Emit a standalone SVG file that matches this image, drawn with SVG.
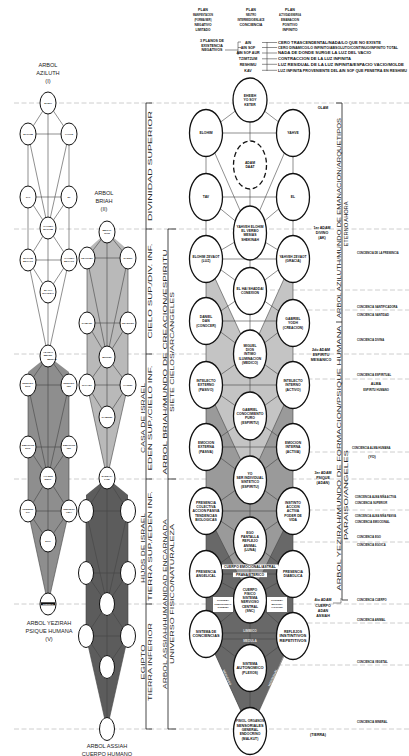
<svg xmlns="http://www.w3.org/2000/svg" width="409" height="756" viewBox="0 0 409 756">
<style>
.dl{stroke:#c2c2c2;stroke-width:.8;stroke-dasharray:5 2.5;fill:none}
.cl{stroke:#444;stroke-width:.6;fill:none}
.br{stroke:#333;stroke-width:.9;fill:none}
.n{fill:#fff;stroke:#111;stroke-width:1.3}
.nd{fill:#fff;stroke:#111;stroke-width:1.3;stroke-dasharray:5 3}
.ns{fill:#fff;stroke:#111;stroke-width:1}
.t{font-family:"Liberation Sans",Arial,sans-serif;font-weight:bold;font-size:3.4px;text-anchor:middle;fill:#111}
.ts{font-family:"Liberation Sans",Arial,sans-serif;font-weight:bold;font-size:2.5px;text-anchor:middle;fill:#111}
.tt{font-family:"Liberation Sans",Arial,sans-serif;font-size:5.6px;text-anchor:middle;fill:#222}
.vt{font-family:"Liberation Sans",Arial,sans-serif;font-size:5.4px;text-anchor:middle;fill:#222}
.lg{font-family:"Liberation Sans",Arial,sans-serif;font-weight:bold;font-size:3.6px;fill:#111}
.lc{font-family:"Liberation Sans",Arial,sans-serif;font-weight:bold;font-size:3.6px;fill:#111;text-anchor:middle}
.wt{font-family:"Liberation Sans",Arial,sans-serif;font-weight:bold;font-size:3.2px;fill:#e0e0e0;text-anchor:middle}
</style>

<!-- dashed level lines -->
<g id="levels">
<line class="dl" x1="14" y1="103" x2="409" y2="103"/>
<line class="dl" x1="14" y1="229" x2="409" y2="229"/>
<line class="dl" x1="14" y1="354" x2="409" y2="354"/>
<line class="dl" x1="14" y1="479" x2="409" y2="479"/>
<line class="dl" x1="14" y1="604" x2="409" y2="604"/>
<line class="dl" x1="14" y1="729" x2="409" y2="729"/>
<line class="dl" x1="270" y1="290" x2="409" y2="290"/>
<line class="dl" x1="270" y1="310" x2="409" y2="310"/>
<line class="dl" x1="270" y1="379" x2="409" y2="379"/>
<line class="dl" x1="270" y1="452" x2="409" y2="452"/>
<line class="dl" x1="270" y1="510" x2="409" y2="510"/>
<line class="dl" x1="270" y1="542" x2="409" y2="542"/>
<line class="dl" x1="270" y1="623" x2="409" y2="623"/>
<line class="dl" x1="270" y1="665" x2="409" y2="665"/>
</g>

<!-- tree fills -->
<g id="fills">
<polygon points="107,232 87,250 87,385 107,478 128,385 128,250" fill="#b9b9b9"/>
<polygon points="48,356 28,372 28,511 48,604 69,511 69,372" fill="#8e8e8e"/>
<polygon points="107,478 86,495 86,636 107,729 128,636 128,495" fill="#5c5c5c"/>
<polygon points="206,259 250,354 293,259 293,634 250,731 206,634" fill="#c4c4c4"/>
<polygon points="206,385 250,480 293,385 293,634 250,731 206,634" fill="#9a9a9a"/>
<polygon points="206,511 250,598 293,511 293,634 250,731 206,634" fill="#686868"/>
</g>

<!-- header -->
<g id="header">
<text class="lc" x="203" y="11"><tspan x="203">PLAN</tspan><tspan x="203" dy="5" textLength="20" lengthAdjust="spacingAndGlyphs">MANIFESTACION</tspan><tspan x="203" dy="5" textLength="17" lengthAdjust="spacingAndGlyphs">(FORMA/SER)</tspan><tspan x="203" dy="5" textLength="17" lengthAdjust="spacingAndGlyphs">NEGATIVO</tspan><tspan x="203" dy="5" textLength="15" lengthAdjust="spacingAndGlyphs">LIMITADO</tspan></text>
<text class="lc" x="251" y="11"><tspan x="251">PLAN</tspan><tspan x="251" dy="5" textLength="10" lengthAdjust="spacingAndGlyphs">NEUTRO</tspan><tspan x="251" dy="5" textLength="27" lengthAdjust="spacingAndGlyphs">INTERMEDIO/ENLACE</tspan><tspan x="251" dy="5" textLength="23" lengthAdjust="spacingAndGlyphs">CONCIENCIA</tspan></text>
<text class="lc" x="290" y="11"><tspan x="290">PLAN</tspan><tspan x="290" dy="5" textLength="22" lengthAdjust="spacingAndGlyphs">ACTIVIDAD/ENERGIA</tspan><tspan x="290" dy="5" textLength="18" lengthAdjust="spacingAndGlyphs">EMANACION</tspan><tspan x="290" dy="5" textLength="15" lengthAdjust="spacingAndGlyphs">POSITIVO</tspan><tspan x="290" dy="5" textLength="15" lengthAdjust="spacingAndGlyphs">INFINITO</tspan></text>
<text class="lc" x="212" y="42"><tspan x="212">3 PLANOS DE</tspan><tspan x="212" dy="4.6">EXISTENCIA</tspan><tspan x="212" dy="4.6">NEGATIVOS</tspan></text>
<path class="cl" d="M225,50 H238 M238,42 V55 M238,42 H241 M238,47.5 H241 M238,53 H241"/>
<text class="lc" x="248" y="43.5">AIN</text>
<text class="lc" x="248" y="48.8">AIN SOF</text>
<text class="lc" x="248" y="54.3">AIN SOF AUR</text>
<text class="lc" x="248" y="60">TZIMTZUM</text>
<text class="lc" x="248" y="65.5">RESHIMU</text>
<text class="lc" x="248" y="71.5">KAV</text>
<path class="cl" d="M267,42 V71 M262,42.5 H277 M262,47.5 H277 M262,53 H277 M262,58.8 H277 M262,64.3 H277 M262,70.3 H277"/>
<text class="lg" x="278" y="43.8" textLength="103" lengthAdjust="spacingAndGlyphs">CERO TRASCENDENTAL/NADA/LO QUE NO EXISTE</text>
<text class="lg" x="278" y="48.8" textLength="120" lengthAdjust="spacingAndGlyphs">CERO DINAMICO/LO INFINITO/ABSOLUTO/CONTINUO/INFINITO TOTAL</text>
<text class="lg" x="278" y="54.3" textLength="93" lengthAdjust="spacingAndGlyphs">NADA DE DONDE SURGE LA LUZ DEL VACIO</text>
<text class="lg" x="278" y="60.1" textLength="73" lengthAdjust="spacingAndGlyphs">CONTRACCION DE LA LUZ INFINITA</text>
<text class="lg" x="278" y="65.6" textLength="126" lengthAdjust="spacingAndGlyphs">LUZ RESIDUAL DE LA LUZ INFINITA/ESPACIO VACIO/MOLDE</text>
<text class="lg" x="278" y="71.6" textLength="129" lengthAdjust="spacingAndGlyphs">LUZ INFINITA PROVENIENTE DEL AIN SOF QUE PENETRA EN RESHIMU</text>
</g>

<!-- connectors -->
<g id="connectors">
<path class="cl" d="M48,103 V356 M48,103 L28,134 M48,103 L69,134 M28,134 H69 M28,197 H69 M28,260 H69 M28,134 V260 M69,134 V260 M28,134 L48,228 M69,134 L48,228 M28,197 L48,228 M69,197 L48,228 M48,228 L28,260 M48,228 L69,260 M28,260 L48,292 M69,260 L48,292 M28,260 L48,356 M69,260 L48,356"/>
<path class="cl" d="M107,232 V478 M107,232 L87,258 M107,232 L128,258 M87,258 H128 M87,323 H128 M87,385 H128 M87,258 V385 M128,258 V385 M87,258 L107,357 M128,258 L107,357 M87,323 L107,357 M128,323 L107,357 M107,357 L87,385 M107,357 L128,385 M87,385 L107,417 M128,385 L107,417 M87,385 L107,478 M128,385 L107,478"/>
<path class="cl" d="M48,356 V604 M48,356 L28,385 M48,356 L69,385 M28,385 H69 M28,447 H69 M28,511 H69 M28,385 V511 M69,385 V511 M28,385 L48,478 M69,385 L48,478 M28,447 L48,478 M69,447 L48,478 M48,478 L28,511 M48,478 L69,511 M28,511 L48,541 M69,511 L48,541 M28,511 L48,604 M69,511 L48,604"/>
<path class="cl" d="M107,478 V729 M107,478 L86,511 M107,478 L128,511 M86,511 H128 M86,573 H128 M86,636 H128 M86,511 V636 M128,511 V636 M86,511 L107,604 M128,511 L107,604 M86,573 L107,604 M128,573 L107,604 M107,604 L86,636 M107,604 L128,636 M86,636 L107,667 M128,636 L107,667 M86,636 L107,729 M128,636 L107,729"/>
<path class="cl" d="M250,100 V731 M206,133 V634 M293,133 V636 M250,100 L206,133 M250,100 L293,133 M206,133 H293 M206,197 H293 M206,259 H293 M206,321 H293 M206,385 H293 M206,447 H293 M206,511 H293 M206,574 H293 M206,633 H293 M206,639 H293 M206,133 L250,233 M293,133 L250,233 M206,197 L250,233 M293,197 L250,233 M250,233 L206,259 M250,233 L293,259 M206,259 L250,291 M293,259 L250,291 M250,291 L206,321 M250,291 L293,321 M206,259 L250,354 M293,259 L250,354 M206,321 L250,354 M293,321 L250,354 M250,354 L206,385 M250,354 L293,385 M206,385 L250,416 M293,385 L250,416 M250,416 L206,447 M250,416 L293,447 M206,385 L250,480 M293,385 L250,480 M206,447 L250,480 M293,447 L250,480 M250,480 L206,511 M250,480 L293,511 M206,511 L250,541 M293,511 L250,541 M250,541 L206,574 M250,541 L293,574 M206,511 L250,598 M293,511 L250,598 M206,574 L250,598 M293,574 L250,598 M250,598 L206,634 M250,598 L293,636 M206,634 L250,668 M293,636 L250,668 M206,634 L250,731 M293,636 L250,731"/>
</g>

<!-- brackets and vertical labels -->
<g id="side-labels">
<path class="br" d="M146,103 V729 M146,103 H152 M146,229 H152 M146,354 H152 M146,479 H152 M146,604 H152 M146,729 H152"/>
<path class="br" d="M168,229 V729 M168,229 H176 M168,479 H176 M168,729 H176"/>
<path class="br" d="M342,103 V600 M336,103 H342 M336,322 H342 M342,600 H348"/>
<text class="vt" transform="translate(152,166) rotate(-90)" textLength="110" lengthAdjust="spacingAndGlyphs">DIVINIDAD SUPERIOR</text>
<text class="vt" transform="translate(152,291) rotate(-90)" textLength="95" lengthAdjust="spacingAndGlyphs">CIELO SUP./DIV. INF.</text>
<text class="vt" transform="translate(145,418) rotate(-90)" textLength="70" lengthAdjust="spacingAndGlyphs">CASA DE ISRAEL</text>
<text class="vt" transform="translate(152,418) rotate(-90)" textLength="105" lengthAdjust="spacingAndGlyphs">EDEN SUP./CIELO INF.</text>
<text class="vt" transform="translate(145,548) rotate(-90)" textLength="70" lengthAdjust="spacingAndGlyphs">HIJOS DE ISRAEL</text>
<text class="vt" transform="translate(152,546) rotate(-90)" textLength="110" lengthAdjust="spacingAndGlyphs">TIERRA SUP./EDEN INF.</text>
<text class="vt" transform="translate(145,662) rotate(-90)" textLength="35" lengthAdjust="spacingAndGlyphs">EGIPTO</text>
<text class="vt" transform="translate(152,662) rotate(-90)" textLength="78" lengthAdjust="spacingAndGlyphs">TIERRA INFERIOR</text>
<text class="vt" transform="translate(167,362) rotate(-90)" textLength="225" lengthAdjust="spacingAndGlyphs">ARBOL BRIAH/MUNDO DE CREACION/ESPIRITU</text>
<text class="vt" transform="translate(174,352) rotate(-90)" textLength="120" lengthAdjust="spacingAndGlyphs">SIETE CIELOS/ARCANGELES</text>
<text class="vt" transform="translate(167,604) rotate(-90)" textLength="170" lengthAdjust="spacingAndGlyphs">ARBOL ASSIAH/HUMANIDAD ENCARNADA</text>
<text class="vt" transform="translate(174,594) rotate(-90)" textLength="140" lengthAdjust="spacingAndGlyphs">UNIVERSO FISICO/NATURALEZA</text>
<text class="vt" transform="translate(341,218) rotate(-90)" textLength="200" lengthAdjust="spacingAndGlyphs">ARBOL AZILUTH/MUNDO DE EMANACION/ARQUETIPOS</text>
<text class="vt" transform="translate(348,224) rotate(-90)" textLength="45" lengthAdjust="spacingAndGlyphs">ETERNO AHORA</text>
<text class="vt" transform="translate(341,458) rotate(-90)" textLength="265" lengthAdjust="spacingAndGlyphs">ARBOL YEZIRAH/MUNDO DE FORMACION/PSIQUE HUMANA</text>
<text class="vt" transform="translate(348,495) rotate(-90)" textLength="90" lengthAdjust="spacingAndGlyphs">PARAISO/ANGELES</text>
</g>

<!-- tree titles -->
<g id="titles">
<text class="tt" x="48" y="67"><tspan x="48">ARBOL</tspan><tspan x="48" dy="8">AZILUTH</tspan><tspan x="48" dy="8">(I)</tspan></text>
<text class="tt" x="104" y="195"><tspan x="104">ARBOL</tspan><tspan x="104" dy="8">BRIAH</tspan><tspan x="104" dy="8">(II)</tspan></text>
<text class="tt" x="49" y="625"><tspan x="49">ARBOL YEZIRAH</tspan><tspan x="49" dy="8">PSIQUE HUMANA</tspan><tspan x="49" dy="8">(V)</tspan></text>
<text class="tt" x="107" y="748"><tspan x="107">ARBOL ASSIAH</tspan><tspan x="107" dy="8">CUERPO HUMANO</tspan></text>
</g>

<!-- Azluth nodes -->
<g id="az-keter"><ellipse class="ns" cx="48" cy="103" rx="8" ry="11"/><text class="ts" x="48" y="104">EHIEH</text></g>
<g id="az-elohim"><ellipse class="ns" cx="28" cy="134" rx="8" ry="11"/><text class="ts" x="28" y="135">ELOHIM</text></g>
<g id="az-yahve"><ellipse class="ns" cx="69" cy="134" rx="8" ry="11"/><text class="ts" x="69" y="135">YAHVE</text></g>
<g id="az-tav"><ellipse class="ns" cx="28" cy="197" rx="8" ry="11"/><text class="ts" x="28" y="198">TAV</text></g>
<g id="az-el"><ellipse class="ns" cx="69" cy="197" rx="8" ry="11"/><text class="ts" x="69" y="198">EL</text></g>
<g id="az-ye"><ellipse class="ns" cx="48" cy="228" rx="8" ry="11"/><text class="ts" x="48" y="227.4"><tspan x="48">YAHVEH</tspan><tspan x="48" dy="3">ELOHIM</tspan></text></g>
<g id="az-ez"><ellipse class="ns" cx="28" cy="260" rx="8" ry="11"/><text class="ts" x="28" y="259.4"><tspan x="28">ELOHIM</tspan><tspan x="28" dy="3">ZEVAOT</tspan></text></g>
<g id="az-yz"><ellipse class="ns" cx="69" cy="260" rx="8" ry="11"/><text class="ts" x="69" y="259.4"><tspan x="69">YAHVEH</tspan><tspan x="69" dy="3">ZEVAOT</tspan></text></g>
<g id="az-ehs"><ellipse class="ns" cx="48" cy="292" rx="8" ry="11"/><text class="ts" x="48" y="291.4"><tspan x="48">EL HAI</tspan><tspan x="48" dy="3">SHADDAI</tspan></text></g>
<g id="az-adonai"><ellipse class="ns" cx="48" cy="356" rx="8" ry="11"/><text class="ts" x="48" y="352.5"><tspan x="48">ADONAI</tspan><tspan x="48" dy="3">MELEK</tspan><tspan x="52" dy="4">MESIAS</tspan></text></g>

<!-- Briah nodes -->
<g id="br-metatron"><ellipse class="ns" cx="107" cy="232" rx="8" ry="11"/><text class="ts" x="107" y="231.4"><tspan x="107">METAT-</tspan><tspan x="107" dy="3">RON</tspan></text></g>
<g id="br-tzafkiel"><ellipse class="ns" cx="87" cy="258" rx="8" ry="11"/><text class="ts" x="87" y="259">TZAFKIEL</text></g>
<g id="br-raziel"><ellipse class="ns" cx="128" cy="258" rx="8" ry="11"/><text class="ts" x="128" y="259">RAZIEL</text></g>
<g id="br-kamael"><ellipse class="ns" cx="87" cy="323" rx="8" ry="11"/><text class="ts" x="87" y="324">KAMAEL</text></g>
<g id="br-tzadkiel"><ellipse class="ns" cx="128" cy="323" rx="8" ry="11"/><text class="ts" x="128" y="324">TZADKIEL</text></g>
<g id="br-miguel"><ellipse class="ns" cx="107" cy="357" rx="8" ry="11"/><text class="ts" x="107" y="358">MIGUEL</text></g>
<g id="br-rafael"><ellipse class="ns" cx="87" cy="385" rx="8" ry="11"/><text class="ts" x="87" y="386">RAFAEL</text></g>
<g id="br-haniel"><ellipse class="ns" cx="128" cy="385" rx="8" ry="11"/><text class="ts" x="128" y="386">HANIEL</text></g>
<g id="br-gabriel"><ellipse class="ns" cx="107" cy="417" rx="8" ry="11"/><text class="ts" x="107" y="418">GABRIEL</text></g>
<g id="br-sandalfon"><ellipse class="ns" cx="107" cy="478" rx="8" ry="11"/><text class="ts" x="107" y="477.4"><tspan x="107">SANDAL-</tspan><tspan x="107" dy="3">FON</tspan></text></g>

<!-- Yezirah nodes -->
<g id="ye-ie"><ellipse class="ns" cx="28" cy="385" rx="8" ry="11"/><text class="ts" x="28" y="384.4"><tspan x="28">INTELEC.</tspan><tspan x="28" dy="3">EXT.</tspan></text></g>
<g id="ye-ii"><ellipse class="ns" cx="69" cy="385" rx="8" ry="11"/><text class="ts" x="69" y="384.4"><tspan x="69">INTELEC.</tspan><tspan x="69" dy="3">INT.</tspan></text></g>
<g id="ye-ee"><ellipse class="ns" cx="28" cy="447" rx="8" ry="11"/><text class="ts" x="28" y="446.4"><tspan x="28">EMOCION</tspan><tspan x="28" dy="3">EXT.</tspan></text></g>
<g id="ye-ei"><ellipse class="ns" cx="69" cy="447" rx="8" ry="11"/><text class="ts" x="69" y="446.4"><tspan x="69">EMOCION</tspan><tspan x="69" dy="3">INT.</tspan></text></g>
<g id="ye-yo"><ellipse class="ns" cx="48" cy="478" rx="8" ry="11"/><text class="ts" x="48" y="477.4"><tspan x="48">YO SER</tspan><tspan x="48" dy="3">INDIV.</tspan></text></g>
<g id="ye-pr"><ellipse class="ns" cx="28" cy="511" rx="8" ry="11"/><text class="ts" x="28" y="510.4"><tspan x="28">PRESEN-</tspan><tspan x="28" dy="3">CIA</tspan></text></g>
<g id="ye-in"><ellipse class="ns" cx="69" cy="511" rx="8" ry="11"/><text class="ts" x="69" y="510.4"><tspan x="69">INSTINTO</tspan><tspan x="69" dy="3">VIDA</tspan></text></g>
<g id="ye-ego"><ellipse class="ns" cx="48" cy="541" rx="8" ry="11"/><text class="ts" x="48" y="542">EGO</text></g>
<g id="ye-cuerpo"><ellipse class="ns" cx="48" cy="604" rx="8" ry="11"/><rect x="41" y="602.3" width="14" height="3" fill="#111"/><text class="ts" x="48" y="604.7" style="fill:#fff">CUERPO</text></g>

<!-- Assiah nodes -->
<g id="as-1"><ellipse class="ns" cx="86" cy="511" rx="7.5" ry="11.5"/></g>
<g id="as-2"><ellipse class="ns" cx="128" cy="511" rx="7.5" ry="11.5"/></g>
<g id="as-3"><ellipse class="ns" cx="86" cy="573" rx="7.5" ry="11.5"/></g>
<g id="as-4"><ellipse class="ns" cx="128" cy="573" rx="7.5" ry="11.5"/></g>
<g id="as-5"><ellipse class="ns" cx="107" cy="604" rx="7.5" ry="11.5"/></g>
<g id="as-6"><ellipse class="ns" cx="86" cy="636" rx="7.5" ry="11.5"/></g>
<g id="as-7"><ellipse class="ns" cx="128" cy="636" rx="7.5" ry="11.5"/></g>
<g id="as-8"><ellipse class="ns" cx="107" cy="667" rx="7.5" ry="11.5"/></g>
<g id="as-9"><ellipse class="ns" cx="107" cy="729" rx="7.5" ry="11.5"/></g>

<!-- Main tree nodes -->
<g id="m-keter"><ellipse class="n" cx="250" cy="100" rx="17" ry="22"/><text class="t" x="250" y="96.9"><tspan x="250">EHEIEH</tspan><tspan x="250" dy="4.3">YO SOY</tspan><tspan x="250" dy="4.3">KETER</tspan></text></g>
<g id="m-elohim"><ellipse class="n" cx="206" cy="133" rx="16.5" ry="23.5"/><text class="t" x="206" y="134.2">ELOHIM</text></g>
<g id="m-yahve"><ellipse class="n" cx="293" cy="133" rx="16.5" ry="23.5"/><text class="t" x="293" y="134.2">YAHVE</text></g>
<g id="m-daat"><ellipse class="nd" cx="250" cy="165" rx="16.5" ry="24"/><text class="t" x="250" y="164"><tspan x="250">ADAM</tspan><tspan x="250" dy="4.3">DAAT</tspan></text></g>
<g id="m-tav"><ellipse class="n" cx="206" cy="197" rx="16.5" ry="23.5"/><text class="t" x="206" y="198.2">TAV</text></g>
<g id="m-el"><ellipse class="n" cx="293" cy="197" rx="16.5" ry="23.5"/><text class="t" x="293" y="198.2">EL</text></g>
<g id="m-ye"><ellipse class="n" cx="250" cy="233" rx="16.5" ry="27"/><text class="t" x="250" y="227.8"><tspan x="250" textLength="27" lengthAdjust="spacingAndGlyphs">YAHVEH ELOHIM</tspan><tspan x="250" dy="4.3">EL VERBO</tspan><tspan x="250" dy="4.3">MESIAS</tspan><tspan x="250" dy="4.3">SHEKINAH</tspan></text></g>
<g id="m-ez"><ellipse class="n" cx="206" cy="259" rx="16.5" ry="23.5"/><text class="t" x="206" y="258"><tspan x="206" textLength="27" lengthAdjust="spacingAndGlyphs">ELOHIM ZEVAOT</tspan><tspan x="206" dy="4.3">(LUZ)</tspan></text></g>
<g id="m-yz"><ellipse class="n" cx="293" cy="259" rx="16.5" ry="23.5"/><text class="t" x="293" y="258"><tspan x="293" textLength="27" lengthAdjust="spacingAndGlyphs">YAHVEH ZEVAOT</tspan><tspan x="293" dy="4.3">(GRACIA)</tspan></text></g>
<g id="m-ehs"><ellipse class="n" cx="250" cy="291" rx="16.5" ry="23.5"/><text class="t" x="250" y="290"><tspan x="250" textLength="27" lengthAdjust="spacingAndGlyphs">EL HAI SHADDAI</tspan><tspan x="250" dy="4.3">CONEXION</tspan></text></g>
<g id="m-daniel"><ellipse class="n" cx="206" cy="321" rx="16.5" ry="23.5"/><text class="t" x="206" y="317.9"><tspan x="206">DANIEL</tspan><tspan x="206" dy="4.3">DAN</tspan><tspan x="206" dy="4.3">(CONOCER)</tspan></text></g>
<g id="m-gabriel"><ellipse class="n" cx="293" cy="323" rx="16.5" ry="23.5"/><text class="t" x="293" y="319.9"><tspan x="293">GABRIEL</tspan><tspan x="293" dy="4.3">YODH</tspan><tspan x="293" dy="4.3">(CREACION)</tspan></text></g>
<g id="m-miguel"><ellipse class="n" cx="250" cy="354" rx="16.5" ry="24"/><text class="t" x="250" y="346.6"><tspan x="250">MIGUEL</tspan><tspan x="250" dy="4.3">DIOS</tspan><tspan x="250" dy="4.3">INTIMO</tspan><tspan x="250" dy="4.3">ILUMINACION</tspan><tspan x="250" dy="4.3">(MEDICO)</tspan></text></g>
<g id="m-ie"><ellipse class="n" cx="206" cy="385" rx="16.5" ry="23.5"/><text class="t" x="206" y="381.9"><tspan x="206">INTELECTO</tspan><tspan x="206" dy="4.3">EXTERNO</tspan><tspan x="206" dy="4.3">(PASIVO)</tspan></text></g>
<g id="m-ii"><ellipse class="n" cx="293" cy="385" rx="16.5" ry="23.5"/><text class="t" x="293" y="381.9"><tspan x="293">INTELECTO</tspan><tspan x="293" dy="4.3">INTERNO</tspan><tspan x="293" dy="4.3">(ACTIVO)</tspan></text></g>
<g id="m-con"><ellipse class="n" cx="250" cy="416" rx="16.5" ry="24"/><text class="t" x="250" y="410.8"><tspan x="250">GABRIEL</tspan><tspan x="250" dy="4.3" textLength="27" lengthAdjust="spacingAndGlyphs">CONOCIMIENTO</tspan><tspan x="250" dy="4.3">PURO</tspan><tspan x="250" dy="4.3">(ESPIRITU)</tspan></text></g>
<g id="m-ee"><ellipse class="n" cx="206" cy="447" rx="16.5" ry="23.5"/><text class="t" x="206" y="443.9"><tspan x="206">EMOCION</tspan><tspan x="206" dy="4.3">EXTERNA</tspan><tspan x="206" dy="4.3">(PASIVA)</tspan></text></g>
<g id="m-ei"><ellipse class="n" cx="293" cy="447" rx="16.5" ry="23.5"/><text class="t" x="293" y="443.9"><tspan x="293">EMOCION</tspan><tspan x="293" dy="4.3">INTERNA</tspan><tspan x="293" dy="4.3">(ACTIVA)</tspan></text></g>
<g id="m-yo"><ellipse class="n" cx="250" cy="480" rx="16.5" ry="24"/><text class="t" x="250" y="474.8"><tspan x="250">YO</tspan><tspan x="250" dy="4.3" textLength="27" lengthAdjust="spacingAndGlyphs">SER INDIVIDUAL</tspan><tspan x="250" dy="4.3">SINTETICO</tspan><tspan x="250" dy="4.3">(ESPIRITU)</tspan></text></g>
<g id="m-pres"><ellipse class="n" cx="206" cy="511" rx="16.5" ry="23.5"/><text class="t" x="206" y="503.6"><tspan x="206">PRESENCIA</tspan><tspan x="206" dy="4.3">COLECTIVA</tspan><tspan x="206" dy="4.3" textLength="27" lengthAdjust="spacingAndGlyphs">ACCION PASIVA</tspan><tspan x="206" dy="4.3">TENDENCIAS</tspan><tspan x="206" dy="4.3">BIOLOGICAS</tspan></text></g>
<g id="m-inst"><ellipse class="n" cx="293" cy="511" rx="16.5" ry="23.5"/><text class="t" x="293" y="503.6"><tspan x="293">INSTINTO</tspan><tspan x="293" dy="4.3">ACCION</tspan><tspan x="293" dy="4.3">ACTIVA</tspan><tspan x="293" dy="4.3">PODER DE</tspan><tspan x="293" dy="4.3">VIDA</tspan></text></g>
<g id="m-ego"><ellipse class="n" cx="250" cy="541" rx="16.5" ry="24"/><text class="t" x="250" y="533.6"><tspan x="250">EGO</tspan><tspan x="250" dy="4.3">PANTALLA</tspan><tspan x="250" dy="4.3">REFLEJO</tspan><tspan x="250" dy="4.3">ANIMAL</tspan><tspan x="250" dy="4.3">(LUNA)</tspan></text></g>
<g id="m-pa"><ellipse class="n" cx="206" cy="574" rx="16.5" ry="23.5"/><text class="t" x="206" y="573"><tspan x="206">PRESENCIA</tspan><tspan x="206" dy="4.3">ANGELICAL</tspan></text></g>
<g id="m-pd"><ellipse class="n" cx="293" cy="574" rx="16.5" ry="23.5"/><text class="t" x="293" y="573"><tspan x="293">PRESENCIA</tspan><tspan x="293" dy="4.3">DIABOLICA</tspan></text></g>
<g id="m-astral"><rect x="222" y="564.5" width="56" height="4.6" fill="#fff"/><text class="t" x="250" y="568" textLength="52" lengthAdjust="spacingAndGlyphs">CUERPO EMOCIONAL/ASTRAL</text><rect x="233" y="572.5" width="34" height="4.6" fill="#fff"/><text class="t" x="250" y="576">PRANA/ETERICO</text></g>
<g id="m-cuerpo"><ellipse class="n" cx="250" cy="600" rx="16.5" ry="23"/><text class="t" x="250" y="590.5"><tspan x="250">CUERPO</tspan><tspan x="250" dy="4.3">FISICO</tspan><tspan x="250" dy="4.3">SISTEMA</tspan><tspan x="250" dy="4.3">NERVIOSO</tspan><tspan x="250" dy="4.3">CENTRAL</tspan><tspan x="250" dy="4.3">(SNC)</tspan></text></g>
<g id="m-corteza"><rect x="213" y="597" width="20" height="15" fill="#fff"/><text class="ts" x="223" y="601"><tspan x="223">CORTEZA</tspan><tspan x="223" dy="3.6">PREFRONTAL</tspan><tspan x="223" dy="3.6">(PSIQUE)</tspan></text></g>
<g id="m-motora"><rect x="267" y="597" width="20" height="15" fill="#fff"/><text class="ts" x="277" y="601"><tspan x="277">CORTEZA</tspan><tspan x="277" dy="3.6">MOTORA</tspan><tspan x="277" dy="3.6">(ACCION)</tspan></text></g>
<g id="m-sc"><ellipse class="n" cx="206" cy="634" rx="16.5" ry="23.5"/><text class="t" x="206" y="633"><tspan x="206">SISTEMA DE</tspan><tspan x="206" dy="4.3" textLength="27" lengthAdjust="spacingAndGlyphs">CONCIENCIAS</tspan></text></g>
<g id="m-ref"><ellipse class="n" cx="293" cy="636" rx="16.5" ry="23.5"/><text class="t" x="293" y="632.9"><tspan x="293">REFLEJOS</tspan><tspan x="293" dy="4.3" textLength="27" lengthAdjust="spacingAndGlyphs">INSTINTIVOS</tspan><tspan x="293" dy="4.3" textLength="27" lengthAdjust="spacingAndGlyphs">REPETITIVOS</tspan></text></g>
<g id="m-lim"><text class="wt" x="250" y="631.6">LIMBICO</text><text class="wt" x="250" y="642">MEDULA</text></g>
<g id="m-sa"><ellipse class="n" cx="250" cy="668" rx="16.5" ry="23.5"/><text class="t" x="250" y="664.9"><tspan x="250">SISTEMA</tspan><tspan x="250" dy="4.3" textLength="27" lengthAdjust="spacingAndGlyphs">AUTONOMICO</tspan><tspan x="250" dy="4.3">(PLEXOS)</tspan></text></g>
<g id="m-diag"><text class="wt" transform="translate(226,678) rotate(65.6)">NERVIOSO</text><text class="wt" transform="translate(274,678) rotate(-65.6)">HORMONAL</text></g>
<g id="m-fisiol"><ellipse class="n" cx="250" cy="731" rx="16.5" ry="23.5"/><text class="t" x="250" y="722.4"><tspan x="250" textLength="28" lengthAdjust="spacingAndGlyphs">FISIOL. ORGANOS</tspan><tspan x="250" dy="4.3" textLength="27" lengthAdjust="spacingAndGlyphs">SENSORIALES</tspan><tspan x="250" dy="4.3">GENERAL</tspan><tspan x="250" dy="4.3">ENDOCRINO</tspan><tspan x="250" dy="4.3">(MALKUT)</tspan></text></g>

<!-- middle right labels -->
<g id="adam-labels">
<text class="lc" x="323" y="109">OLAM</text>
<text class="lc" x="322" y="229"><tspan x="322">1er ADAM</tspan><tspan x="322" dy="5">DIVINO</tspan><tspan x="322" dy="5">(AK)</tspan></text>
<text class="lc" x="321" y="351"><tspan x="321">2do ADAM</tspan><tspan x="321" dy="5">ESPIRITU</tspan><tspan x="321" dy="5">MESIANICO</tspan></text>
<text class="lc" x="323" y="474"><tspan x="323">3er ADAM</tspan><tspan x="323" dy="5">PSIQUE</tspan><tspan x="323" dy="5">(ADAN)</tspan></text>
<text class="lc" x="323" y="601"><tspan x="323">4to ADAM</tspan><tspan x="323" dy="5.5">CUERPO</tspan><tspan x="323" dy="5">ADAN</tspan><tspan x="323" dy="5">ASSIAH</tspan></text>
<path class="cl" d="M333,603 H341 V598"/>
<text class="lc" x="318" y="736">(TIERRA)</text>
</g>

<!-- right conciencia labels -->
<g id="conciencia-labels">
<text class="lg" transform="translate(357,254) scale(0.74,1)">CONCIENCIA DE LA PRESENCIA</text>
<text class="lg" transform="translate(357,308) scale(0.76,1)">CONCIENCIA SANTIFICADORA</text>
<text class="lg" transform="translate(357,316) scale(0.76,1)">CONCIENCIA SANTIDAD</text>
<text class="lg" transform="translate(357,341) scale(0.76,1)">CONCIENCIA DIVINA</text>
<text class="lg" transform="translate(357,376) scale(0.76,1)">CONCIENCIA ESPIRITUAL</text>
<text class="lc" x="376" y="385">ALMA</text>
<text class="lc" transform="translate(376,391) scale(0.76,1)">ESPIRITU HUMANO</text>
<text class="lg" transform="translate(352,449) scale(0.76,1)">CONCIENCIA ALMA HUMANA</text>
<text class="lc" x="372" y="458">(YO)</text>
<text class="lg" transform="translate(355,498) scale(0.72,1)">CONCIENCIA ALMA NIÑA ACTIVA</text>
<text class="lg" transform="translate(355,503.5) scale(0.76,1)">CONCIENCIA SUPERIOR</text>
<text class="lg" transform="translate(355,517) scale(0.72,1)">CONCIENCIA ALMA NIÑA PASIVA</text>
<text class="lg" transform="translate(355,522.5) scale(0.76,1)">CONCIENCIA EMOCIONAL</text>
<text class="lg" transform="translate(357,538) scale(0.76,1)">CONCIENCIA EGO</text>
<text class="lg" transform="translate(357,546) scale(0.76,1)">CONCIENCIA EGOICA</text>
<text class="lg" transform="translate(357,601) scale(0.76,1)">CONCIENCIA CUERPO</text>
<text class="lg" transform="translate(357,621) scale(0.76,1)">CONCIENCIA ANIMAL</text>
<text class="lg" transform="translate(357,663) scale(0.76,1)">CONCIENCIA VEGETAL</text>
<text class="lg" transform="translate(357,723) scale(0.76,1)">CONCIENCIA MINERAL</text>
</g>
</svg>
